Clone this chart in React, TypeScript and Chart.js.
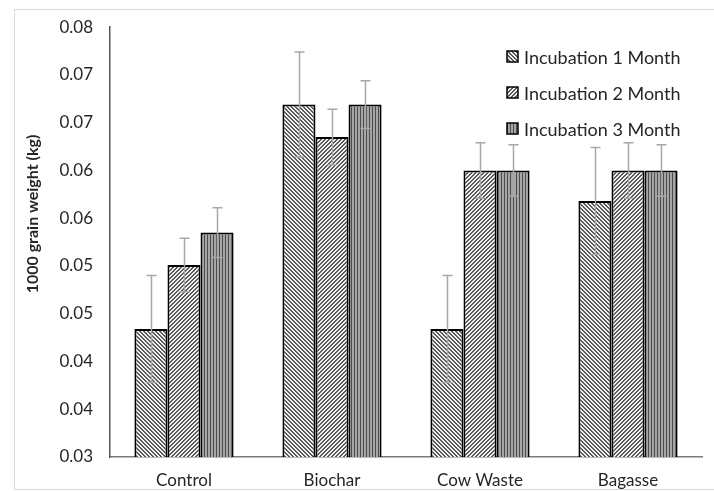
import React, { useEffect, useRef } from "react";
import { Chart, registerables } from "chart.js";

Chart.register(...registerables);

const categories = ["Control", "Biochar", "Cow Waste", "Bagasse"];
const seriesNames = ["Incubation 1 Month", "Incubation 2 Month", "Incubation 3 Month"];
const month1 = [0.0434, 0.0669, 0.0434, 0.0568];
const month2 = [0.0501, 0.0635, 0.06, 0.06];
const month3 = [0.0535, 0.0669, 0.06, 0.06];
const err1 = [0.0056, 0.0055, 0.0056, 0.0056];
const err2 = [0.0028, 0.0029, 0.0029, 0.0029];
const err3 = [0.0026, 0.0025, 0.0027, 0.0027];
const yTickLabels = ["0.03", "0.04", "0.04", "0.05", "0.05", "0.06", "0.06", "0.07", "0.07", "0.08"];
const yTitle = "1000 grain weight (kg)";

function makePattern(kind: number): CanvasPattern | string {
  const c = document.createElement("canvas");
  const ctx = c.getContext("2d");
  if (!ctx) return "#999";
  if (kind === 0 || kind === 1) {
    c.width = 4;
    c.height = 4;
    ctx.fillStyle = "#f0f0f0";
    ctx.fillRect(0, 0, 4, 4);
    ctx.fillStyle = "#5a5a5a";
    for (let y = 0; y < 4; y++) {
      const x0 = kind === 0 ? y : 3 - y;
      ctx.fillRect(x0 % 4, y, 1, 1);
      ctx.fillRect((x0 + 1) % 4, y, 1, 1);
    }
  } else {
    c.width = 3;
    c.height = 1;
    ctx.fillStyle = "#a6a6a6";
    ctx.fillRect(0, 0, 3, 1);
    ctx.fillStyle = "#4c4c4c";
    ctx.fillRect(0, 0, 1, 1);
  }
  return ctx.createPattern(c, "repeat") as CanvasPattern;
}

export default function App() {
  const ref = useRef<HTMLCanvasElement>(null);
  useEffect(() => {
    document.body.style.margin = "0";
    const canvas = ref.current;
    if (!canvas) return;
    const patterns = [makePattern(0), makePattern(1), makePattern(2)];
    const values = [month1, month2, month3];
    const errs = [err1, err2, err3];

    const errorBars = {
      id: "errorBars",
      afterDatasetsDraw(chart: any) {
        const ctx = chart.ctx;
        const ys = chart.scales.y;
        ctx.save();
        ctx.strokeStyle = "#a8a8a8";
        ctx.lineWidth = 1.5;
        chart.data.datasets.forEach((ds: any, di: number) => {
          const meta = chart.getDatasetMeta(di);
          meta.data.forEach((bar: any, i: number) => {
            const v = values[di][i];
            const e = errs[di][i];
            const x = Math.round(bar.x) + 0.5;
            const yt = ys.getPixelForValue(v + e);
            const yb = ys.getPixelForValue(v - e);
            ctx.beginPath();
            ctx.moveTo(x, yt);
            ctx.lineTo(x, yb);
            ctx.moveTo(x - 5, yt);
            ctx.lineTo(x + 5, yt);
            ctx.moveTo(x - 5, yb);
            ctx.lineTo(x + 5, yb);
            ctx.stroke();
          });
        });
        ctx.restore();
      },
    };

    const decor = {
      id: "decor",
      beforeDraw(chart: any) {
        const ctx = chart.ctx;
        ctx.save();
        ctx.fillStyle = "#ffffff";
        ctx.fillRect(0, 0, chart.width, chart.height);
        ctx.strokeStyle = "#dadada";
        ctx.lineWidth = 1;
        ctx.strokeRect(14.5, 9.5, chart.width + 10, 480);
        ctx.restore();
      },
      afterDraw(chart: any) {
        const ctx = chart.ctx;
        ctx.save();
        ctx.translate(33, 214);
        ctx.rotate(-Math.PI / 2);
        ctx.fillStyle = "#262626";
        ctx.font = "bold 16px Lato";
        ctx.textAlign = "center";
        ctx.textBaseline = "middle";
        ctx.fillText(yTitle, 0, 0);
        ctx.restore();
        ctx.save();
        const rows = [57, 93, 129];
        ctx.font = "18px Lato";
        ctx.textBaseline = "middle";
        ctx.textAlign = "left";
        seriesNames.forEach((name, i) => {
          const y = rows[i];
          ctx.fillStyle = patterns[i];
          ctx.fillRect(507, y - 6, 11, 11);
          ctx.strokeStyle = "#000";
          ctx.lineWidth = 1.5;
          ctx.strokeRect(507, y - 6, 11, 11);
          ctx.fillStyle = "#262626";
          ctx.fillText(name, 524, y + 1);
        });
        ctx.restore();
      },
    };

    const chart = new Chart(canvas, {
      type: "bar",
      data: {
        labels: categories,
        datasets: values.map((vals, i) => ({
          label: seriesNames[i],
          data: vals,
          backgroundColor: patterns[i] as any,
          borderColor: "#000",
          borderWidth: 2,
          borderSkipped: false,
          categoryPercentage: 0.67,
          barPercentage: 1,
        })),
      },
      options: {
        animation: false,
        responsive: false,
        maintainAspectRatio: false,
        devicePixelRatio: 1,
        layout: { padding: { top: 24, right: 12, left: 0, bottom: 0 } },
        plugins: { legend: { display: false }, tooltip: { enabled: false } },
        scales: {
          x: {
            grid: { display: false, drawTicks: false },
            border: { display: true, color: "#7a7a7a", width: 1.5 },
            ticks: { color: "#262626", font: { family: "Lato", size: 17 }, padding: 13 },
            afterFit: (s: any) => {
              s.height = 34;
            },
          },
          y: {
            min: 0.03,
            max: 0.075,
            grid: { display: false, drawTicks: false },
            border: { display: true, color: "#555", width: 1.5 },
            ticks: {
              stepSize: 0.005,
              color: "#262626",
              font: { family: "Lato", size: 17 },
              padding: 17,
              callback: (_v: any, i: number) => yTickLabels[i],
            },
            afterFit: (s: any) => {
              s.width = 110;
            },
          },
        },
      },
      plugins: [decor, errorBars],
    });
    return () => chart.destroy();
  }, []);
  return (
    <div style={{ width: 714, height: 491 }}>
      <canvas ref={ref} width={714} height={491} style={{ display: "block" }} />
    </div>
  );
}
